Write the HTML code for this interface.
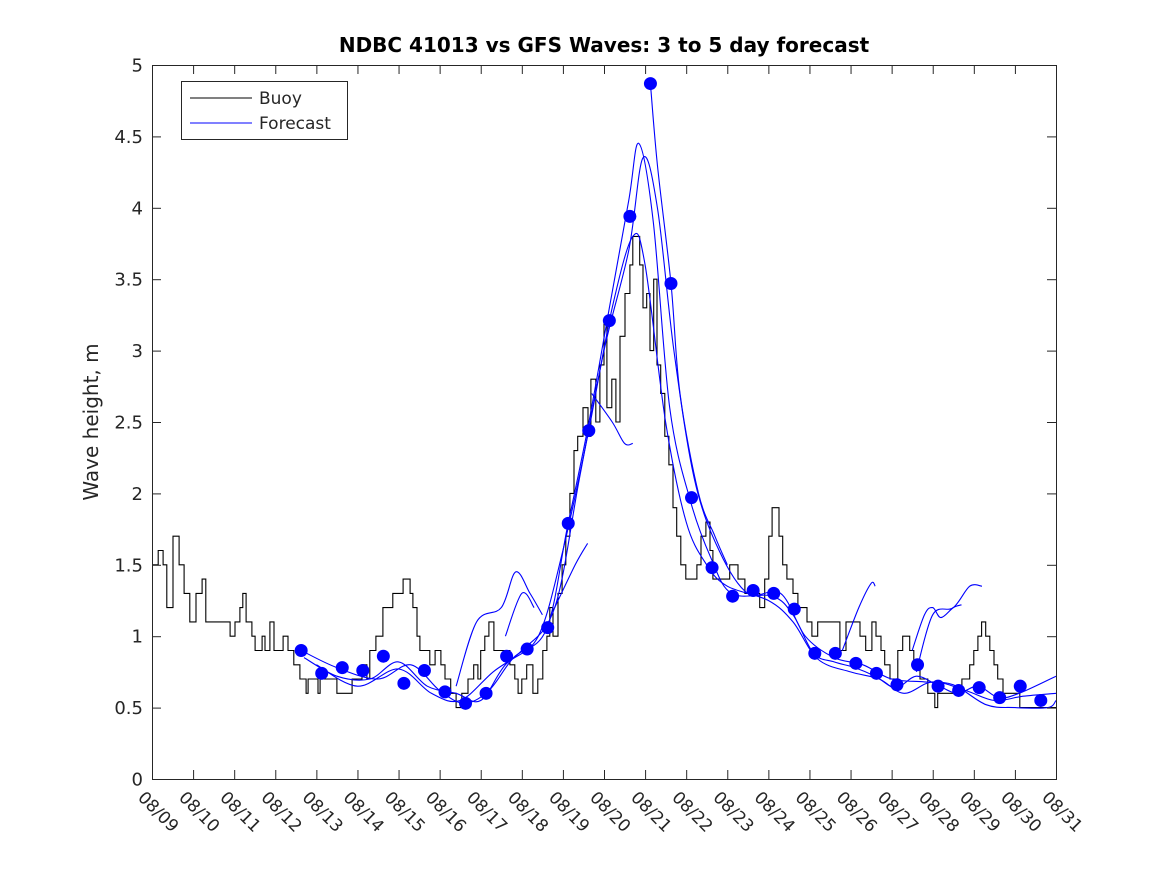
<!DOCTYPE html>
<html><head><meta charset="utf-8"><style>
html,body{margin:0;padding:0;background:#fff;}
svg text{font-family:"DejaVu Sans","Liberation Sans",sans-serif;}
</style></head><body>
<svg id="chart" width="1167" height="875" xmlns="http://www.w3.org/2000/svg">
<rect width="1167" height="875" fill="#fff"/>
<text x="604" y="52" text-anchor="middle" font-size="20" font-weight="bold">NDBC 41013 vs GFS Waves: 3 to 5 day forecast</text>
<text transform="translate(98,422) rotate(-90)" text-anchor="middle" font-size="20" fill="#262626">Wave height, m</text>
<g id="plot"></g>
<g id="axes"></g>
<g>
<rect x="181.5" y="81.5" width="166" height="58" fill="#fff" stroke="#262626" stroke-width="1"/>
<line x1="190" y1="98" x2="252" y2="98" stroke="#000" stroke-width="1"/>
<text x="259" y="104" font-size="17" fill="#262626">Buoy</text>
<line x1="190" y1="123" x2="252" y2="123" stroke="#0000ff" stroke-width="1"/>
<text x="259" y="129" font-size="17" fill="#262626">Forecast</text>
</g>
</svg>
<script>
const xTickLabels=["08/09","08/10","08/11","08/12","08/13","08/14","08/15","08/16","08/17","08/18","08/19","08/20","08/21","08/22","08/23","08/24","08/25","08/26","08/27","08/28","08/29","08/30","08/31"];
const yTicks=[0,0.5,1,1.5,2,2.5,3,3.5,4,4.5,5];
const yTickLabels=["0","0.5","1","1.5","2","2.5","3","3.5","4","4.5","5"];
const buoyDays=[0,0.15,0.27,0.36,0.51,0.66,0.78,0.92,1.07,1.22,1.31,1.90,2.02,2.14,2.21,2.29,2.43,2.51,2.68,2.75,2.87,2.97,3.19,3.31,3.45,3.60,3.75,3.80,4.04,4.09,4.50,4.87,5.11,5.23,5.30,5.45,5.62,5.86,6.11,6.28,6.35,6.45,6.52,6.76,6.89,7.03,7.13,7.27,7.40,7.54,7.69,7.83,7.93,8.00,8.10,8.20,8.32,8.71,8.83,8.91,9.00,9.12,9.27,9.39,9.51,9.61,9.68,9.76,9.88,9.98,10.07,10.17,10.27,10.36,10.49,10.61,10.68,10.80,10.90,11.00,11.07,11.19,11.29,11.39,11.51,11.63,11.70,11.87,11.95,12.04,12.12,12.21,12.29,12.38,12.48,12.58,12.68,12.77,12.87,12.99,13.26,13.36,13.48,13.58,13.65,14.06,14.26,14.43,14.79,14.91,15.01,15.09,15.26,15.35,15.45,15.60,15.72,15.94,16.06,16.20,16.74,16.89,17.23,17.37,17.52,17.62,17.74,17.83,17.96,18.15,18.27,18.44,18.54,18.69,18.88,19.05,19.12,19.71,19.90,20.00,20.10,20.19,20.29,20.39,20.49,20.58,20.71,21.12];
const buoyHs=[1.5,1.6,1.5,1.2,1.7,1.5,1.3,1.1,1.3,1.4,1.1,1.0,1.1,1.2,1.3,1.1,1.0,0.9,1.0,0.9,1.1,0.9,1.0,0.9,0.8,0.7,0.6,0.7,0.6,0.7,0.6,0.7,0.8,0.7,0.9,1.0,1.2,1.3,1.4,1.3,1.2,1.0,0.9,0.8,0.9,0.8,0.7,0.6,0.5,0.6,0.7,0.8,0.7,0.9,1.0,1.1,0.9,0.8,0.7,0.6,0.7,0.8,0.6,0.7,0.9,1.0,1.2,1.0,1.3,1.5,1.7,2.0,2.3,2.4,2.6,2.4,2.8,2.5,2.9,3.2,2.6,2.8,2.5,3.1,3.4,3.6,3.8,3.6,3.3,3.4,3.0,3.5,2.9,2.7,2.4,2.2,1.9,1.7,1.5,1.4,1.5,1.7,1.8,1.6,1.4,1.5,1.4,1.3,1.2,1.4,1.7,1.9,1.7,1.5,1.4,1.3,1.2,1.1,1.0,1.1,0.9,1.1,1.0,0.9,1.1,1.0,0.9,0.8,0.7,0.9,1.0,0.9,0.8,0.7,0.6,0.5,0.6,0.7,0.8,0.9,1.0,1.1,1.0,0.9,0.8,0.7,0.6,0.5];
const markerDays=[3.63,4.13,4.63,5.13,5.63,6.13,6.63,7.13,7.63,8.13,8.63,9.13,9.63,10.13,10.63,11.13,11.63,12.13,12.63,13.13,13.63,14.13,14.63,15.13,15.63,16.13,16.63,17.13,17.63,18.13,18.63,19.13,19.63,20.13,20.63,21.13,21.63];
const markerHs=[0.90,0.74,0.78,0.76,0.86,0.67,0.76,0.61,0.53,0.60,0.86,0.91,1.06,1.79,2.44,3.21,3.94,4.87,3.47,1.97,1.48,1.28,1.32,1.30,1.19,0.88,0.88,0.81,0.74,0.66,0.80,0.65,0.62,0.64,0.57,0.65,0.55];
const fcA_days=[3.63,4.5,5.5,6.3,7.0,7.6,8.2,8.8,9.6,10.1,10.6,11.1,11.6,11.85,12.2,12.6,13.1,13.6,14.1,15.1,15.6,16.1,16.6,17.1,17.6,18.1,18.6,19.1,19.6,20.1,20.6,21.1,22];
const fcA_hs=[0.90,0.78,0.70,0.80,0.62,0.53,0.62,0.85,1.05,1.75,2.45,3.25,4.05,4.45,3.9,2.6,1.95,1.55,1.3,1.28,1.15,0.88,0.82,0.78,0.72,0.64,0.72,0.66,0.60,0.65,0.57,0.60,0.72];
const fcB_days=[3.7,4.5,5.3,6.0,6.7,7.4,8.0,8.6,9.4,10.0,10.6,11.2,11.7,12.0,12.5,13.0,13.5,14.0,15.0,15.6,16.2,17.0,17.7,18.3,19.0,19.8,20.5,21.2,22];
const fcB_hs=[0.85,0.72,0.70,0.82,0.65,0.60,0.55,0.80,1.0,1.6,2.4,3.3,3.8,3.6,2.5,1.8,1.5,1.35,1.25,1.1,0.84,0.75,0.70,0.60,0.68,0.62,0.55,0.58,0.60];
const fcC_days=[4.0,5.0,6.0,6.8,7.5,8.3,9.0,9.8,10.4,11.0,11.6,11.95,12.3,12.7,13.2,13.8,14.5,15.3,15.9,16.6,17.3,18.0,18.8,19.5,20.3,21.0,21.8,22];
const fcC_hs=[0.80,0.65,0.77,0.60,0.55,0.75,0.90,1.2,2.1,3.0,3.7,4.35,4.0,3.0,2.1,1.6,1.3,1.3,1.0,0.85,0.80,0.70,0.68,0.66,0.52,0.50,0.50,0.55];
const fcD_days=[12.13,12.3,12.63,12.85,13.3,13.7,14.0];
const fcD_hs=[4.87,4.3,3.47,2.7,2.0,1.7,1.5];
const fcE_days=[7.4,7.9,8.5,8.85,9.2,9.5];
const fcE_hs=[0.65,1.1,1.2,1.45,1.3,1.15];
const fcF_days=[8.6,9.0,9.3];
const fcF_hs=[1.0,1.3,1.2];
const fcG_days=[10.7,11.2,11.5,11.7];
const fcG_hs=[2.7,2.5,2.35,2.35];
const fcH_days=[9.8,10.3,10.6];
const fcH_hs=[1.2,1.5,1.65];
const fcI_days=[16.8,17.2,17.5,17.6];
const fcI_hs=[0.9,1.2,1.37,1.35];
const fcJ_days=[18.5,18.8,19.0,19.2,19.5,19.7];
const fcJ_hs=[0.9,1.15,1.2,1.13,1.2,1.22];
const fcK_days=[18.6,19.0,19.5,19.9,20.2];
const fcK_hs=[0.75,1.15,1.2,1.35,1.35];

const X0=152,X1=1056,Y0=779,Y1=65,NDAYS=22;
function xs(d){return X0+(X1-X0)*d/NDAYS;}
function ys(v){return Y0-(Y0-Y1)*v/5;}
const NS="http://www.w3.org/2000/svg";
const plot=document.getElementById('plot');
const axes=document.getElementById('axes');
function mk(tag,attrs,parent){const e=document.createElementNS(NS,tag);for(const k in attrs)e.setAttribute(k,attrs[k]);parent.appendChild(e);return e;}

let d="";
for(let i=0;i<buoyDays.length;i++){
  const x=xs(buoyDays[i]).toFixed(1),y=ys(buoyHs[i]).toFixed(1);
  if(i===0)d+="M"+x+" "+y;else d+=" H"+x+" V"+y;
}
d+=" H"+xs(NDAYS);
const bl=mk('path',{d:d,fill:'none',stroke:'#000','stroke-width':1.1},plot);



function smoothPath(xsArr,ysArr){
  let p="M"+xsArr[0].toFixed(1)+" "+ysArr[0].toFixed(1);
  for(let i=0;i<xsArr.length-1;i++){
    const x0=xsArr[Math.max(i-1,0)],y0=ysArr[Math.max(i-1,0)];
    const x1=xsArr[i],y1=ysArr[i],x2=xsArr[i+1],y2=ysArr[i+1];
    const x3=xsArr[Math.min(i+2,xsArr.length-1)],y3=ysArr[Math.min(i+2,xsArr.length-1)];
    const c1x=x1+(x2-x0)/6,c1y=y1+(y2-y0)/6,c2x=x2-(x3-x1)/6,c2y=y2-(y3-y1)/6;
    p+=" C"+c1x.toFixed(1)+" "+c1y.toFixed(1)+" "+c2x.toFixed(1)+" "+c2y.toFixed(1)+" "+x2.toFixed(1)+" "+y2.toFixed(1);
  }
  return p;
}
const fcs=[[fcA_days,fcA_hs],[fcB_days,fcB_hs],[fcC_days,fcC_hs],[fcD_days,fcD_hs],[fcE_days,fcE_hs],[fcF_days,fcF_hs],[fcG_days,fcG_hs],[fcH_days,fcH_hs],[fcI_days,fcI_hs],[fcJ_days,fcJ_hs],[fcK_days,fcK_hs]];
fcs.forEach(function(f){
  const px=f[0].map(xs),py=f[1].map(ys);
  const pl=mk('path',{d:smoothPath(px,py),fill:'none',stroke:'#0000ff','stroke-width':1.1},plot);
  
  
});
markerDays.forEach(function(dd,i){
  const c=mk('circle',{cx:xs(dd),cy:ys(markerHs[i]),r:6.5,fill:'#0000ff'},plot);
  
  
});

const box=mk('rect',{x:X0+0.5,y:Y1+0.5,width:X1-X0,height:Y0-Y1,fill:'none',stroke:'#262626','stroke-width':1},axes);


for(let i=0;i<xTickLabels.length;i++){
  const x=xs(i)+0.5;
  const t1=mk('line',{x1:x,y1:Y0,x2:x,y2:Y0-9,stroke:'#262626'},axes);
  
  
  const t2=mk('line',{x1:x,y1:Y1,x2:x,y2:Y1+9,stroke:'#262626'},axes);
  
  
  const tx=mk('text',{x:0,y:0,transform:'translate('+(x-12)+','+(Y0+16)+') rotate(45)','font-size':17,fill:'#262626','dominant-baseline':'middle'},axes);
  tx.textContent=xTickLabels[i];
  
  
}
yTicks.forEach(function(v,i){
  const y=ys(v)+0.5;
  const t1=mk('line',{x1:X0,y1:y,x2:X0+9,y2:y,stroke:'#262626'},axes);
  
  
  const t2=mk('line',{x1:X1,y1:y,x2:X1-9,y2:y,stroke:'#262626'},axes);
  
  
  const tx=mk('text',{x:X0-9,y:y+6,'text-anchor':'end','font-size':18,fill:'#262626'},axes);
  tx.textContent=yTickLabels[i];
  
  
});
</script>
</body></html>
